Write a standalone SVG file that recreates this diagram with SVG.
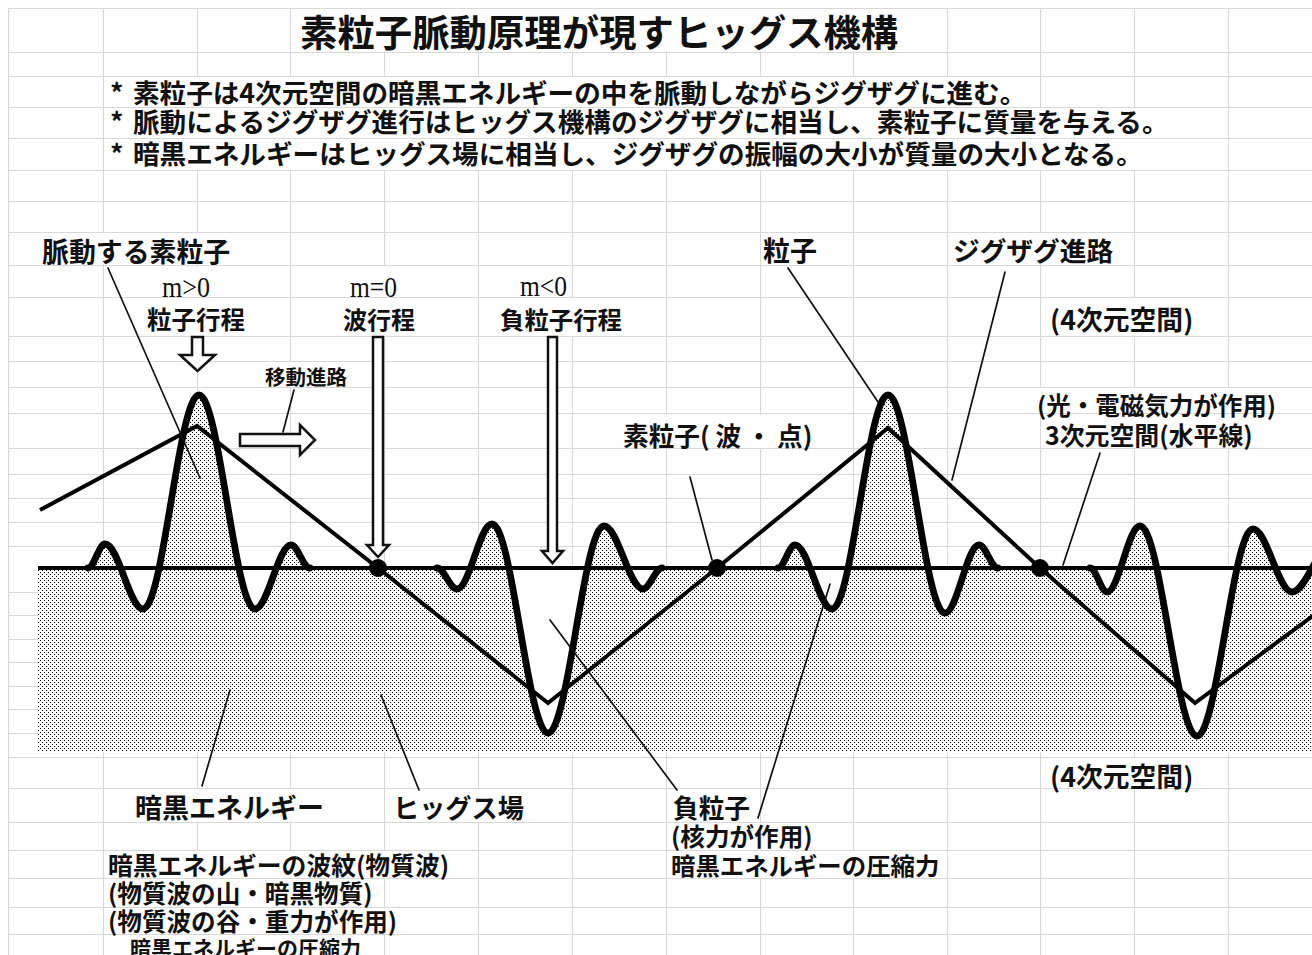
<svg xmlns="http://www.w3.org/2000/svg" width="1312" height="955" viewBox="0 0 1312 955">
<defs>
<pattern id="dots" width="4" height="4" patternUnits="userSpaceOnUse">
<rect width="4" height="4" fill="#fff"/>
<rect x="0" y="0" width="1" height="1" fill="#000"/>
<rect x="2" y="2" width="1" height="1" fill="#000"/>
</pattern>
<style>
.grid line{stroke:#d8d8d8;stroke-width:1}
.mask rect{fill:#fff}
.jp{font-family:"Noto Sans CJK JP","Noto Sans CJK SC",sans-serif;font-weight:700;fill:#111}
.m{font-family:"Liberation Serif",serif;font-size:29px;fill:#111}
.lead{stroke:#111;stroke-width:1.7;fill:none;stroke-linecap:round}
.harrow{fill:#fff;stroke:#111;stroke-width:2.5;stroke-linejoin:miter}
.wave{fill:none;stroke:#000;stroke-width:6.8;stroke-linejoin:round;stroke-linecap:round}
.zig{fill:none;stroke:#000;stroke-width:4;stroke-linejoin:miter}
.base{stroke:#000;stroke-width:4}
</style>
</defs>
<rect width="1312" height="955" fill="#fff"/>
<g class="grid" id="grid-v">
<line x1="8.5" y1="8" x2="8.5" y2="955"/>
<line x1="103.5" y1="8" x2="103.5" y2="955"/>
<line x1="197.5" y1="8" x2="197.5" y2="955"/>
<line x1="290.5" y1="8" x2="290.5" y2="955"/>
<line x1="384.5" y1="8" x2="384.5" y2="955"/>
<line x1="478.5" y1="8" x2="478.5" y2="955"/>
<line x1="572.5" y1="8" x2="572.5" y2="955"/>
<line x1="666.5" y1="8" x2="666.5" y2="955"/>
<line x1="760.5" y1="8" x2="760.5" y2="955"/>
<line x1="853.5" y1="8" x2="853.5" y2="955"/>
<line x1="947.5" y1="8" x2="947.5" y2="955"/>
<line x1="1040.5" y1="8" x2="1040.5" y2="955"/>
<line x1="1134.5" y1="8" x2="1134.5" y2="955"/>
<line x1="1228.5" y1="8" x2="1228.5" y2="955"/>
</g>
<g class="mask" id="overflow-masks">
<rect x="292" y="9" width="614" height="42"/>
<rect x="110" y="77" width="926" height="31"/>
<rect x="110" y="107" width="1062" height="31"/>
<rect x="110" y="138" width="1036" height="32"/>
<rect x="40" y="233" width="192" height="31"/>
<rect x="950" y="233" width="165" height="31"/>
<rect x="160" y="266" width="52" height="31"/>
<rect x="348" y="266" width="52" height="31"/>
<rect x="145" y="298" width="102" height="38"/>
<rect x="341" y="298" width="76" height="38"/>
<rect x="498" y="298" width="126" height="38"/>
<rect x="1048" y="298" width="142" height="38"/>
<rect x="263" y="362" width="86" height="25"/>
<rect x="1035" y="388" width="240" height="26"/>
<rect x="1043" y="415" width="207" height="33"/>
<rect x="621" y="415" width="193" height="33"/>
<rect x="1048" y="758" width="142" height="30"/>
<rect x="133" y="789" width="194" height="33"/>
<rect x="391" y="789" width="134" height="33"/>
<rect x="671" y="823" width="142" height="27"/>
<rect x="671" y="851" width="272" height="27"/>
<rect x="106" y="851" width="343" height="27"/>
<rect x="106" y="879" width="268" height="28"/>
<rect x="106" y="908" width="294" height="26"/>
<rect x="128" y="935" width="236" height="20"/>
</g>
<g class="grid" id="grid-h">
<line x1="8" y1="8.5" x2="1312" y2="8.5"/>
<line x1="8" y1="52.5" x2="1312" y2="52.5"/>
<line x1="8" y1="76.5" x2="1312" y2="76.5"/>
<line x1="8" y1="107.5" x2="1312" y2="107.5"/>
<line x1="8" y1="138.5" x2="1312" y2="138.5"/>
<line x1="8" y1="170.5" x2="1312" y2="170.5"/>
<line x1="8" y1="201.5" x2="1312" y2="201.5"/>
<line x1="8" y1="232.5" x2="1312" y2="232.5"/>
<line x1="8" y1="265.5" x2="1312" y2="265.5"/>
<line x1="8" y1="297.5" x2="1312" y2="297.5"/>
<line x1="8" y1="336.5" x2="1312" y2="336.5"/>
<line x1="8" y1="361.5" x2="1312" y2="361.5"/>
<line x1="8" y1="387.5" x2="1312" y2="387.5"/>
<line x1="8" y1="413.5" x2="1312" y2="413.5"/>
<line x1="8" y1="448.5" x2="1312" y2="448.5"/>
<line x1="8" y1="474.5" x2="1312" y2="474.5"/>
<line x1="8" y1="498.5" x2="1312" y2="498.5"/>
<line x1="8" y1="522.5" x2="1312" y2="522.5"/>
<line x1="8" y1="546.5" x2="1312" y2="546.5"/>
<line x1="8" y1="592.5" x2="1312" y2="592.5"/>
<line x1="8" y1="615.5" x2="1312" y2="615.5"/>
<line x1="8" y1="639.5" x2="1312" y2="639.5"/>
<line x1="8" y1="662.5" x2="1312" y2="662.5"/>
<line x1="8" y1="686.5" x2="1312" y2="686.5"/>
<line x1="8" y1="709.5" x2="1312" y2="709.5"/>
<line x1="8" y1="733.5" x2="1312" y2="733.5"/>
<line x1="8" y1="757.5" x2="1312" y2="757.5"/>
<line x1="8" y1="788.5" x2="1312" y2="788.5"/>
<line x1="8" y1="822.5" x2="1312" y2="822.5"/>
<line x1="8" y1="850.5" x2="1312" y2="850.5"/>
<line x1="8" y1="878.5" x2="1312" y2="878.5"/>
<line x1="8" y1="907.5" x2="1312" y2="907.5"/>
<line x1="8" y1="934.5" x2="1312" y2="934.5"/>
</g>
<g id="field">
<rect x="38" y="568" width="1274" height="184" fill="#fff"/>
<path fill="url(#dots)" d="M38,568 L88,568 C94.1,568 98.9,544 105,544 C118.7,544 129.3,609 143,609 C163.2,609 178.8,395 199,395 C219.2,395 234.8,609 255,609 C268,609 278,545 291,545 C297.8,545 303.2,568 310,568 L437,568 C444.2,568 449.8,589 457,589 C469.6,589 479.4,524 492,524 C512.2,524 527.8,733 548,733 C568.2,733 583.8,526 604,526 C618,526 629,589 643,589 C649.8,589 655.2,568 662,568 L778,568 C784.1,568 788.9,545 795,545 C808.3,545 818.7,609 832,609 C852.2,609 867.8,395 888,395 C908.5,395 924.5,613 945,613 C957.2,613 966.8,545 979,545 C985.8,545 991.2,568 998,568 L1090,568 C1096.1,568 1100.9,592 1107,592 C1118.9,592 1128.1,526 1140,526 C1160.5,526 1176.5,736 1197,736 C1217.2,736 1232.8,529 1253,529 C1267,529 1278,592 1292,592 C1305.7,592 1316.3,548 1330,548 L1330,752 L38,752 Z"/>
<line class="base" x1="38" y1="568" x2="1312" y2="568"/>
<path class="wave" d="M88,568 C94.1,568 98.9,544 105,544 C118.7,544 129.3,609 143,609 C163.2,609 178.8,395 199,395 C219.2,395 234.8,609 255,609 C268,609 278,545 291,545 C297.8,545 303.2,568 310,568 M437,568 C444.2,568 449.8,589 457,589 C469.6,589 479.4,524 492,524 C512.2,524 527.8,733 548,733 C568.2,733 583.8,526 604,526 C618,526 629,589 643,589 C649.8,589 655.2,568 662,568 M778,568 C784.1,568 788.9,545 795,545 C808.3,545 818.7,609 832,609 C852.2,609 867.8,395 888,395 C908.5,395 924.5,613 945,613 C957.2,613 966.8,545 979,545 C985.8,545 991.2,568 998,568 M1090,568 C1096.1,568 1100.9,592 1107,592 C1118.9,592 1128.1,526 1140,526 C1160.5,526 1176.5,736 1197,736 C1217.2,736 1232.8,529 1253,529 C1267,529 1278,592 1292,592 C1305.7,592 1316.3,548 1330,548"/>
<polyline class="zig" points="40,510 197,426 378,568 548,703 717,568 888,428 1040,568 1195,703 1314,615"/>
<circle cx="378" cy="568" r="9" fill="#000"/>
<circle cx="717" cy="568" r="9" fill="#000"/>
<circle cx="1040" cy="568" r="9" fill="#000"/>
</g>
<g id="connectors">
<path class="harrow" d="M192,337 H203 V355 H215 L197.5,371 L180,355 H192 Z"/>
<path class="harrow" d="M373,337 H383 V545 H389 L378,557 L367,545 H373 Z"/>
<path class="harrow" d="M548,337 H557 V551 H563 L552.5,563 L542,551 H548 Z"/>
<path class="harrow" d="M240,434 H300 V425 L315,440 L300,455 V446 H240 Z"/>
<line class="lead" x1="108" y1="268" x2="200" y2="478"/>
<line class="lead" x1="294" y1="390" x2="283" y2="432"/>
<line class="lead" x1="788" y1="268" x2="878" y2="402"/>
<line class="lead" x1="1005" y1="272" x2="952" y2="480"/>
<line class="lead" x1="690" y1="477" x2="712" y2="560"/>
<line class="lead" x1="1100" y1="453" x2="1063" y2="565"/>
<line class="lead" x1="230" y1="690" x2="202" y2="786"/>
<line class="lead" x1="381" y1="695" x2="419" y2="790"/>
<line class="lead" x1="550" y1="620" x2="677" y2="790"/>
<line class="lead" x1="758" y1="818" x2="830" y2="584"/>
</g>
<g id="title"><text class="jp" x="300" y="47" font-size="37.4">素粒子脈動原理が現すヒッグス機構</text></g>
<g id="bullets">
<text class="jp" font-size="26.6" y="102.6"><tspan x="110">*</tspan><tspan x="133">素粒子は4次元空間の暗黒エネルギーの中を脈動しながらジグザグに進む。</tspan></text>
<text class="jp" font-size="26.6" y="132.1"><tspan x="110">*</tspan><tspan x="133">脈動によるジグザグ進行はヒッグス機構のジグザグに相当し、素粒子に質量を与える。</tspan></text>
<text class="jp" font-size="26.6" y="163.6"><tspan x="110">*</tspan><tspan x="133">暗黒エネルギーはヒッグス場に相当し、ジグザグの振幅の大小が質量の大小となる。</tspan></text>
</g>
<g id="label-pulsing"><text class="jp" x="42" y="261.7" font-size="26.9">脈動する素粒子</text></g>
<g id="label-particle-stroke">
<text class="m" x="162" y="297" textLength="48" lengthAdjust="spacingAndGlyphs">m&gt;0</text>
<text class="jp" x="147" y="329.3" font-size="24.5">粒子行程</text>
</g>
<g id="label-wave-stroke">
<text class="m" x="350" y="297" textLength="47" lengthAdjust="spacingAndGlyphs">m=0</text>
<text class="jp" x="343" y="329.3" font-size="24">波行程</text>
</g>
<g id="label-antiparticle-stroke">
<text class="m" x="520" y="296" textLength="47" lengthAdjust="spacingAndGlyphs">m&lt;0</text>
<text class="jp" x="500" y="329.3" font-size="24.4">負粒子行程</text>
</g>
<g id="label-move"><text class="jp" x="265" y="384.8" font-size="20.5">移動進路</text></g>
<g id="label-particle"><text class="jp" x="763" y="261.3" font-size="27">粒子</text></g>
<g id="label-zigzag"><text class="jp" x="953" y="261" font-size="26.7">ジグザグ進路</text></g>
<g id="label-4d-top"><text class="jp" x="1050" y="330" font-size="26.8">(4次元空間)</text></g>
<g id="label-3d">
<text class="jp" x="1037" y="415.3" font-size="24.5">(光・電磁気力が作用)</text>
<text class="jp" x="1045" y="444.5" font-size="24.9">3次元空間(水平線)</text>
</g>
<g id="label-elementary"><text class="jp" y="445.8" font-size="25.7"><tspan x="623">素粒子( 波</tspan><tspan x="746">・</tspan><tspan x="777">点)</tspan></text></g>
<g id="label-4d-bottom"><text class="jp" x="1050" y="787" font-size="26.8">(4次元空間)</text></g>
<g id="label-dark-energy"><text class="jp" x="135" y="818" font-size="27">暗黒エネルギー</text></g>
<g id="label-higgs"><text class="jp" x="393" y="818" font-size="26.2">ヒッグス場</text></g>
<g id="label-antiparticle">
<text class="jp" x="673" y="818" font-size="25.7">負粒子</text>
<text class="jp" x="671" y="846" font-size="24.6">(核力が作用)</text>
<text class="jp" x="671" y="875" font-size="24.4">暗黒エネルギーの圧縮力</text>
</g>
<g id="label-ripple">
<text class="jp" x="108" y="874.5" font-size="24.8">暗黒エネルギーの波紋(物質波)</text>
<text class="jp" x="108" y="903" font-size="24.6">(物質波の山・暗黒物質)</text>
<text class="jp" x="108" y="931" font-size="24.6">(物質波の谷・重力が作用)</text>
<text class="jp" x="130" y="956" font-size="21">暗黒エネルギーの圧縮力</text>
</g>
</svg>
